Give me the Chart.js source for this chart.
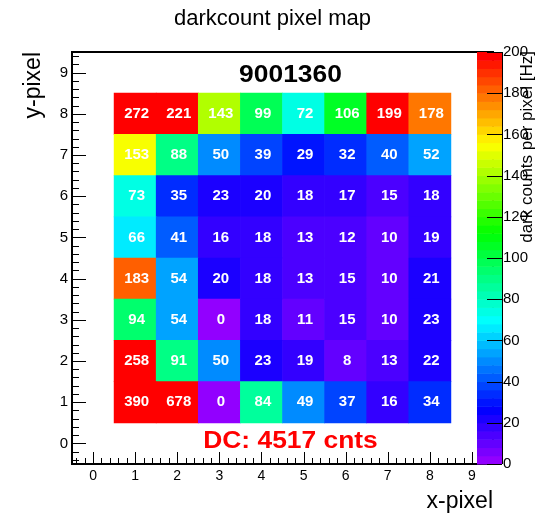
<!DOCTYPE html>
<html>
<head>
<meta charset="utf-8">
<script src="https://cdn.jsdelivr.net/npm/chart.js@4/dist/chart.umd.min.js"></script>
<style>
  html, body { margin: 0; padding: 0; background: #fff; }
</style>
</head>
<body>
<canvas id="pixmap" width="545" height="517"></canvas>
<script>
// sensor layout: 8 columns, 8 rows (top row first)
const xPixels = [1, 2, 3, 4, 5, 6, 7, 8];
const yPixels = [8, 7, 6, 5, 4, 3, 2, 1];
const axisTicks = [0, 1, 2, 3, 4, 5, 6, 7, 8, 9];

// dark counts per pixel, one array per row
const row8 = [272, 221, 143, 99, 72, 106, 199, 178];
const row7 = [153, 88, 50, 39, 29, 32, 40, 52];
const row6 = [73, 35, 23, 20, 18, 17, 15, 18];
const row5 = [66, 41, 16, 18, 13, 12, 10, 19];
const row4 = [183, 54, 20, 18, 13, 15, 10, 21];
const row3 = [94, 54, 0, 18, 11, 15, 10, 23];
const row2 = [258, 91, 50, 23, 19, 8, 13, 22];
const row1 = [390, 678, 0, 84, 49, 37, 16, 34];
const countRows = [row8, row7, row6, row5, row4, row3, row2, row1];

const sensorId = '9001360';
const totalLabel = 'DC: 4517 cnts';
const zMin = 0, zMax = 200, zStep = 20;

const FONT = "'Liberation Sans', Arial, Helvetica, sans-serif";

// ROOT "pretty" palette: 50 bands, violet -> red
function bandHue(i) {
  return 280 - (i + 1) * 5.6;
}
function rootColor(v) {
  const nb = 50;
  let i = Math.floor((v - zMin) / (zMax - zMin) * nb);
  i = Math.max(0, Math.min(nb - 1, i));
  return 'hsl(' + bandHue(i) + ', 100%, 50%)';
}

// one floating bar per pixel
const cells = [];
yPixels.forEach((py, r) => {
  xPixels.forEach((px, c) => {
    cells.push({ x: px, y: [py - 0.5, py + 0.5], v: countRows[r][c] });
  });
});

const setTicks = s => { s.ticks = axisTicks.map(v => ({ value: v })); };

const pixmapDecor = {
  id: 'pixmapDecor',
  afterDatasetsDraw(chart) {
    const { ctx, chartArea: a, scales } = chart;
    const sx = scales.x, sy = scales.y, sz = scales.y2;
    ctx.save();

    // numbers in the cells
    ctx.fillStyle = '#fff';
    ctx.font = 'bold 15px ' + FONT;
    ctx.textAlign = 'center';
    ctx.textBaseline = 'middle';
    cells.forEach(p => {
      ctx.fillText(String(p.v), sx.getPixelForValue(p.x) + 1.5, sy.getPixelForValue((p.y[0] + p.y[1]) / 2));
    });

    // frame
    ctx.strokeStyle = '#000';
    ctx.lineWidth = 2;
    ctx.strokeRect(a.left, a.top, a.right - a.left, a.bottom - a.top);

    // inside ticks (major every 1, minor every 0.2)
    ctx.lineWidth = 1;
    ctx.beginPath();
    for (let k = -2; k <= 47; k++) {
      const v = k / 5;
      const major = k % 5 === 0;
      const px = Math.round(sx.getPixelForValue(v)) + 0.5;
      ctx.moveTo(px, a.bottom);
      ctx.lineTo(px, a.bottom - (major ? 12 : 6));
      const py = Math.round(sy.getPixelForValue(v)) + 0.5;
      ctx.moveTo(a.left, py);
      ctx.lineTo(a.left + (major ? 14 : 7), py);
    }
    ctx.stroke();

    // colour bar
    const barL = a.right - 16, barR = a.right + 9;
    for (let i = 0; i < 50; i++) {
      const v0 = zMin + i * (zMax - zMin) / 50;
      const v1 = zMin + (i + 1) * (zMax - zMin) / 50;
      const y0 = sz.getPixelForValue(v0), y1 = sz.getPixelForValue(v1);
      ctx.fillStyle = 'hsl(' + bandHue(i) + ', 100%, 50%)';
      ctx.fillRect(barL, y1, barR - barL, y0 - y1 + 0.5);
    }
    ctx.strokeStyle = '#000';
    ctx.beginPath();
    sz.ticks.forEach(t => {
      const py = Math.round(sz.getPixelForValue(t.value)) + 0.5;
      ctx.moveTo(barR - 15, py);
      ctx.lineTo(barR, py);
    });
    ctx.moveTo(barR + 0.5, a.top);
    ctx.lineTo(barR + 0.5, a.bottom);
    ctx.stroke();

    // colour bar title
    ctx.save();
    ctx.translate(527, a.top - 1);
    ctx.rotate(-Math.PI / 2);
    ctx.fillStyle = '#000';
    ctx.font = '17px ' + FONT;
    ctx.textAlign = 'right';
    ctx.textBaseline = 'middle';
    ctx.fillText('dark counts per pixel [Hz]', 0, 0);
    ctx.restore();

    // sensor id and total count
    ctx.save();
    ctx.translate(sx.getPixelForValue(4.69), sy.getPixelForValue(8.94));
    ctx.scale(1.1, 1);
    ctx.fillStyle = '#000';
    ctx.font = 'bold 24px ' + FONT;
    ctx.textAlign = 'center';
    ctx.textBaseline = 'middle';
    ctx.fillText(sensorId, 0, 0);
    ctx.restore();

    ctx.save();
    ctx.translate(sx.getPixelForValue(4.69), sy.getPixelForValue(0.05));
    ctx.scale(1.1, 1);
    ctx.fillStyle = '#ff0000';
    ctx.font = 'bold 24px ' + FONT;
    ctx.textAlign = 'center';
    ctx.textBaseline = 'middle';
    ctx.fillText(totalLabel, 0, 0);
    ctx.restore();

    ctx.restore();
  }
};

new Chart(document.getElementById('pixmap'), {
  type: 'bar',
  data: {
    datasets: [{
      data: cells,
      backgroundColor: c => rootColor(c.raw ? c.raw.v : 0),
      borderWidth: 0,
      barPercentage: 1,
      categoryPercentage: 1
    }]
  },
  options: {
    responsive: false,
    animation: false,
    devicePixelRatio: 1,
    layout: { padding: 0 },
    plugins: {
      legend: { display: false },
      tooltip: { enabled: false },
      title: {
        display: true,
        text: 'darkcount pixel map',
        color: '#000',
        font: { family: FONT, size: 22, weight: 'normal' },
        padding: { top: 5.8, bottom: 19.8 }
      }
    },
    scales: {
      x: {
        type: 'linear', min: -0.5, max: 9.5, offset: false,
        grid: { display: false, drawTicks: false }, border: { display: false },
        afterBuildTicks: setTicks,
        ticks: { autoSkip: false, maxRotation: 0,
                 color: '#000', font: { family: FONT, size: 14 }, padding: 4 },
        title: { display: true, text: 'x-pixel', align: 'end', color: '#000',
                 font: { family: FONT, size: 23 }, padding: { top: 0, bottom: 2 } },
        afterFit: s => { s.height = 53; }
      },
      y: {
        type: 'linear', min: -0.5, max: 9.5,
        grid: { display: false, drawTicks: false }, border: { display: false },
        afterBuildTicks: setTicks,
        ticks: { autoSkip: false,
                 color: '#000', font: { family: FONT, size: 15 }, padding: 4 },
        title: { display: true, text: 'y-pixel', align: 'end', color: '#000',
                 font: { family: FONT, size: 23 }, padding: { top: 20, bottom: 0 } },
        afterFit: s => { s.width = 72; }
      },
      y2: {
        type: 'linear', position: 'right', min: zMin, max: zMax,
        grid: { display: false, drawTicks: false }, border: { display: false },
        ticks: { stepSize: zStep, color: '#000', font: { family: FONT, size: 15 }, padding: 10 },
        afterFit: s => { s.width = 52; }
      }
    }
  },
  plugins: [pixmapDecor]
});
</script>
</body>
</html>
